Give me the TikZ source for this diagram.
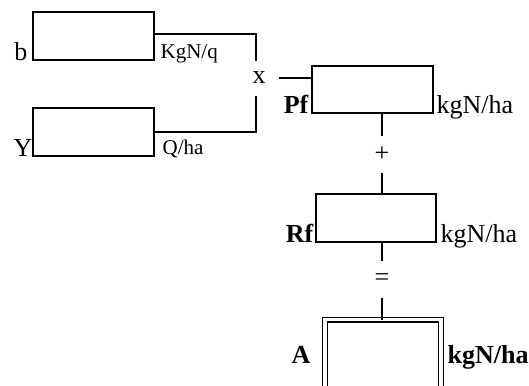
\documentclass[tikz,border=0pt]{standalone}
\usepackage{fontspec}
\setmainfont{Liberation Serif}
\begin{document}
\begin{tikzpicture}[x=1bp,y=-1bp,line width=1.3bp,
  box/.style={draw,inner sep=0pt,outer sep=0pt},
  big/.style={font=\fontsize{26bp}{30bp}\selectfont,inner sep=0pt},
  small/.style={font=\fontsize{21bp}{25bp}\selectfont,inner sep=0pt},
  bigb/.style={font=\fontsize{26bp}{30bp}\selectfont\bfseries,inner sep=0pt},
  op/.style={font=\fontsize{26bp}{30bp}\selectfont,inner sep=0pt,minimum height=35bp}]
\useasboundingbox (0,0) rectangle (529,385);
\clip (0,0) rectangle (529,385);
% boxes
\node[box,minimum width=121bp,minimum height=48bp] (b) at (93.5,36) {};
\node[box,minimum width=121bp,minimum height=48bp] (y) at (93.5,132) {};
\node[box,minimum width=121bp,minimum height=47bp] (pf) at (372.5,89.5) {};
\node[box,minimum width=120bp,minimum height=48bp] (rf) at (376,218) {};
\node[draw,double,double distance=3.4bp,inner sep=0pt,outer sep=0pt,minimum width=116bp,minimum height=80.5bp] (a) at (383,359.75) {};
% operators
\node[big,minimum width=38bp] (xl) at (259,78) {x};
\node[op] (plus) at (382,154.5) {+};
\node[op] (eq) at (382,279.5) {=};
\coordinate (xt) at (256,61);
\coordinate (xb) at (256,96);
% connectors
\draw ([yshift=2bp]b.east) -| (xt);
\draw (y.east) -| (xb);
\draw (xl.east) -- (xl.east -| pf.west);
\draw (plus.north) -- (plus.north |- pf.south);
\draw (plus.south) -- (plus.south |- rf.north);
\draw (eq.north) -- (eq.north |- rf.south);
\draw (eq.south) -- (eq.south |- a.north);
% labels
\node[big,anchor=base east] (lb) at (28,60) {b};
\node[big,anchor=base east] (ly) at (33,156) {Y};
\node[small,anchor=base west] (lkq) at (160,58) {KgN/q};
\node[small,anchor=base west] (lqh) at (162,154) {Q/ha};
\node[bigb,anchor=base east] (lpf) at (309,113) {Pf};
\node[big,anchor=base west] (lpk) at (436,113) {kgN/ha};
\node[bigb,anchor=base east] (lrf) at (314,242) {Rf};
\node[big,anchor=base west] (lrk) at (440,242) {kgN/ha};
\node[bigb,anchor=base east] (la) at (311,363) {A};
\node[bigb,anchor=base west] (lak) at (447,363) {kgN/ha};
\end{tikzpicture}
\end{document}
